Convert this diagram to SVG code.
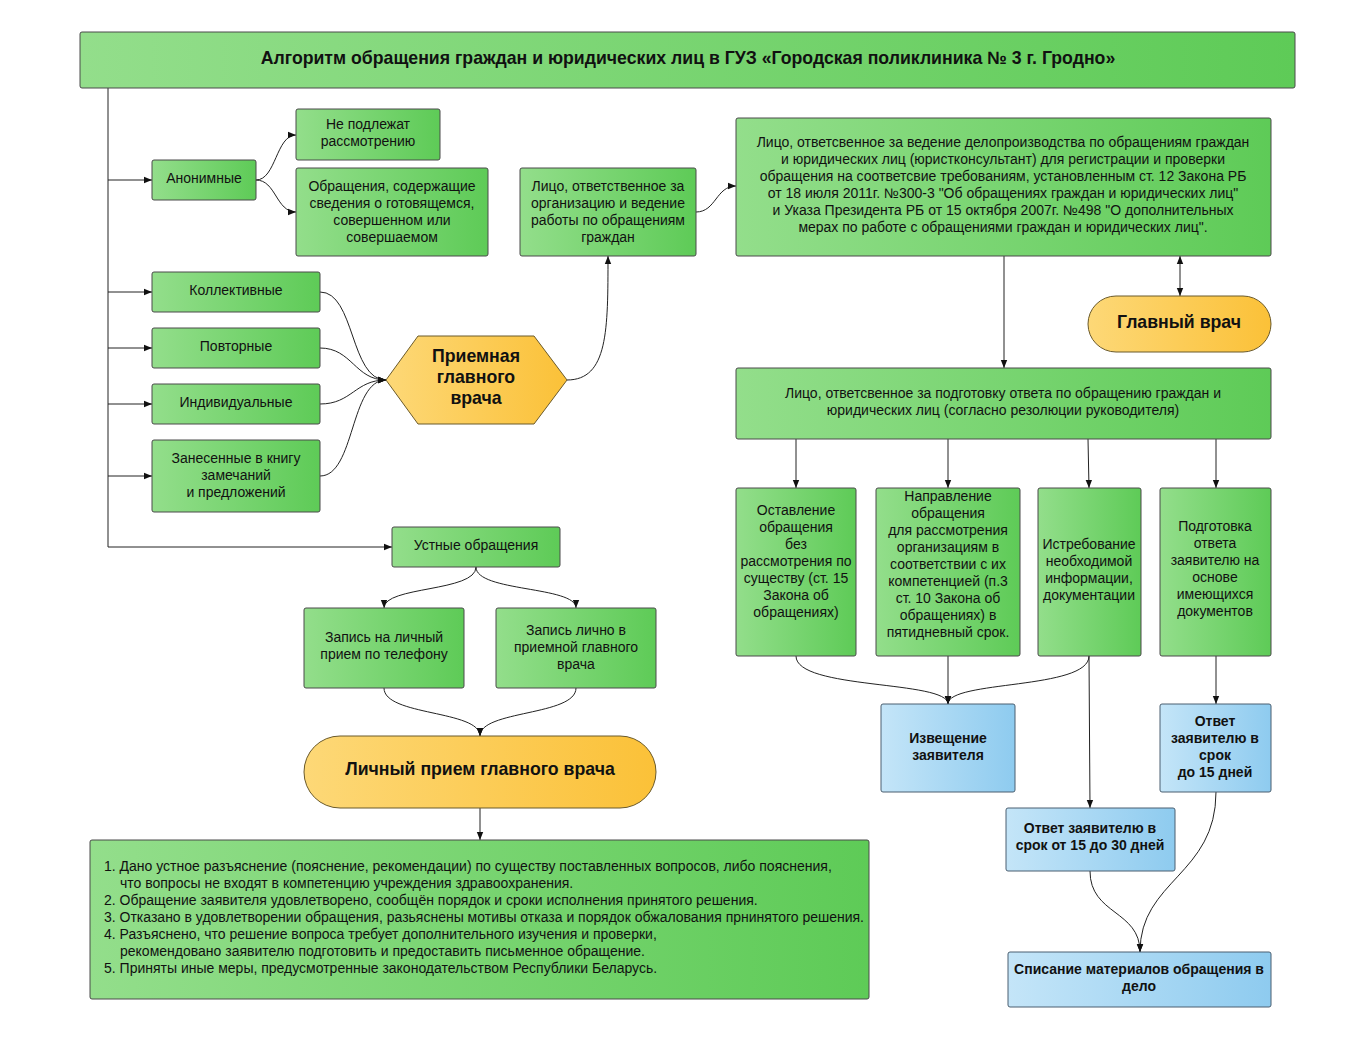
<svg xmlns="http://www.w3.org/2000/svg" width="1359" height="1040" viewBox="0 0 1359 1040">
<defs>
<linearGradient id="gGreen" x1="0" y1="0" x2="1" y2="0">
<stop offset="0" stop-color="#93de8b"/>
<stop offset="1" stop-color="#5ecb57"/>
</linearGradient>
<linearGradient id="gOrange" x1="0" y1="0" x2="1" y2="0">
<stop offset="0" stop-color="#fdd877"/>
<stop offset="1" stop-color="#fbc138"/>
</linearGradient>
<linearGradient id="gBlue" x1="0" y1="0" x2="1" y2="0">
<stop offset="0" stop-color="#c4e5f8"/>
<stop offset="1" stop-color="#8ecbef"/>
</linearGradient>
<marker id="arr" viewBox="0 0 10 10" refX="10" refY="5" markerWidth="8" markerHeight="8" markerUnits="userSpaceOnUse" orient="auto-start-reverse">
<path d="M0,1 L10,5 L0,9 z" fill="#111"/>
</marker>
</defs>
<style>
.g{fill:url(#gGreen);stroke:#4a4a4a;stroke-width:1}
.o{fill:url(#gOrange);stroke:#6b5a2a;stroke-width:1}
.b{fill:url(#gBlue);stroke:#4b5f70;stroke-width:1}
text{font-family:"Liberation Sans",Arial,sans-serif;font-size:14px;fill:#111;text-anchor:middle}
.bold{font-weight:bold}
.big{font-size:17.7px;font-weight:bold}
.left{text-anchor:start}
.c{fill:none;stroke:#222;stroke-width:1}
.ca{fill:none;stroke:#222;stroke-width:1;marker-end:url(#arr)}
</style>
<rect width="1359" height="1040" fill="#ffffff"/>

<g id="connectors">
<path class="c" d="M108,88 L108,547"/>
<path class="ca" d="M108,547 L392,547"/>
<path class="ca" d="M108,180 L152,180"/>
<path class="ca" d="M108,292 L152,292"/>
<path class="ca" d="M108,348 L152,348"/>
<path class="ca" d="M108,404 L152,404"/>
<path class="ca" d="M108,476 L152,476"/>
<path class="ca" d="M256,180 C276,180 276,135 296,135"/>
<path class="ca" d="M256,180 C276,180 276,212 296,212"/>
<path class="ca" d="M320,292 C355,292 350,380 386,380"/>
<path class="ca" d="M320,348 C352,348 355,380 386,380"/>
<path class="ca" d="M320,404 C352,404 355,380 386,380"/>
<path class="ca" d="M320,476 C355,476 350,380 386,380"/>
<path class="ca" d="M567,380 C608,380 608,330 608,256"/>
<path class="ca" d="M696,212 C716,212 716,186 736,186"/>
<path class="ca" d="M1004,256 L1004,368"/>
<path class="ca" d="M1180,296 L1180,256" style="marker-start:url(#arr)"/>
<path class="ca" d="M796,439 L796,488"/>
<path class="ca" d="M948,439 L948,488"/>
<path class="ca" d="M1088,439 L1089,488"/>
<path class="ca" d="M1216,439 L1216,488"/>
<path class="ca" d="M796,656 C796,690 948,680 948,704"/>
<path class="ca" d="M948,656 L948,704"/>
<path class="ca" d="M1089,656 C1089,690 948,680 948,704"/>
<path class="ca" d="M1089,656 L1090,808"/>
<path class="ca" d="M1216,656 L1216,704"/>
<path class="ca" d="M1090,871 C1090,915 1140,910 1140,952"/>
<path class="ca" d="M1216,792 C1216,875 1140,880 1140,952"/>
<path class="ca" d="M476,567 C476,592 384,586 384,608"/>
<path class="ca" d="M476,567 C476,592 576,586 576,608"/>
<path class="ca" d="M384,688 C384,716 480,710 480,736"/>
<path class="ca" d="M576,688 C576,716 480,710 480,736"/>
<path class="ca" d="M480,808 L480,840"/>
</g>

<g id="title">
<rect class="g" x="80" y="32" width="1215" height="56" rx="2"/>
<text class="big" x="688" y="64">Алгоритм обращения граждан и юридических лиц в ГУЗ «Городская поликлиника № 3 г. Гродно»</text>
</g>

<g id="anonymous">
<rect class="g" x="152" y="160" width="104" height="40" rx="2"/>
<text x="204" y="183">Анонимные</text>
</g>
<g id="not-considered">
<rect class="g" x="296" y="109" width="144" height="51" rx="2"/>
<text x="368" y="129">Не подлежат</text>
<text x="368" y="146">рассмотрению</text>
</g>
<g id="crime-info">
<rect class="g" x="296" y="168" width="192" height="88" rx="2"/>
<text x="392" y="191">Обращения, содержащие</text>
<text x="392" y="208">сведения о готовящемся,</text>
<text x="392" y="225">совершенном или</text>
<text x="392" y="242">совершаемом</text>
</g>
<g id="organizer">
<rect class="g" x="520" y="168" width="176" height="88" rx="2"/>
<text x="608" y="191">Лицо, ответственное за</text>
<text x="608" y="208">организацию и ведение</text>
<text x="608" y="225">работы по обращениям</text>
<text x="608" y="242">граждан</text>
</g>
<g id="registrar">
<rect class="g" x="736" y="118" width="535" height="138" rx="2"/>
<text x="1003" y="147">Лицо, ответсвенное за ведение делопроизводства по обращениям граждан</text>
<text x="1003" y="164">и юридических лиц (юристконсультант) для регистрации и проверки</text>
<text x="1003" y="181">обращения на соответсвие требованиям, установленным ст. 12 Закона РБ</text>
<text x="1003" y="198">от 18 июля 2011г. №300-3 "Об обращениях граждан и юридических лиц"</text>
<text x="1003" y="215">и Указа Президента РБ от 15 октября 2007г. №498 "О дополнительных</text>
<text x="1003" y="232">мерах по работе с обращениями граждан и юридических лиц".</text>
</g>
<g id="chief">
<rect class="o" x="1088" y="296" width="183" height="56" rx="28"/>
<text class="big" x="1179" y="328">Главный врач</text>
</g>
<g id="responder">
<rect class="g" x="736" y="368" width="535" height="71" rx="2"/>
<text x="1003" y="398">Лицо, ответсвенное за подготовку ответа по обращению граждан и</text>
<text x="1003" y="415">юридических лиц (согласно резолюции руководителя)</text>
</g>

<g id="collective">
<rect class="g" x="152" y="272" width="168" height="40" rx="2"/>
<text x="236" y="295">Коллективные</text>
</g>
<g id="repeated">
<rect class="g" x="152" y="328" width="168" height="40" rx="2"/>
<text x="236" y="351">Повторные</text>
</g>
<g id="individual">
<rect class="g" x="152" y="384" width="168" height="40" rx="2"/>
<text x="236" y="407">Индивидуальные</text>
</g>
<g id="book">
<rect class="g" x="152" y="440" width="168" height="72" rx="2"/>
<text x="236" y="463">Занесенные в книгу</text>
<text x="236" y="480">замечаний</text>
<text x="236" y="497">и предложений</text>
</g>
<g id="reception">
<polygon class="o" points="386,380 418,336 534,336 567,380 534,424 418,424"/>
<text class="big" x="476" y="362">Приемная</text>
<text class="big" x="476" y="383">главного</text>
<text class="big" x="476" y="404">врача</text>
</g>

<g id="oral">
<rect class="g" x="392" y="527" width="168" height="40" rx="2"/>
<text x="476" y="550">Устные обращения</text>
</g>
<g id="phone">
<rect class="g" x="304" y="608" width="160" height="80" rx="2"/>
<text x="384" y="642">Запись на личный</text>
<text x="384" y="659">прием по телефону</text>
</g>
<g id="inperson">
<rect class="g" x="496" y="608" width="160" height="80" rx="2"/>
<text x="576" y="635">Запись лично в</text>
<text x="576" y="652">приемной главного</text>
<text x="576" y="669">врача</text>
</g>
<g id="personal">
<rect class="o" x="304" y="736" width="352" height="72" rx="36"/>
<text class="big" x="480" y="775">Личный прием главного врача</text>
</g>
<g id="outcomes">
<rect class="g" x="90" y="840" width="779" height="159" rx="2"/>
<text class="left" x="104" y="871">1. Дано устное разъяснение (пояснение, рекомендации) по существу поставленных вопросов, либо пояснения,</text>
<text class="left" x="120" y="888">что вопросы не входят в компетенцию учреждения здравоохранения.</text>
<text class="left" x="104" y="905">2. Обращение заявителя удовлетворено, сообщён порядок и сроки исполнения принятого решения.</text>
<text class="left" x="104" y="922">3. Отказано в удовлетворении обращения, разьяснены мотивы отказа и порядок обжалования прнинятого решения.</text>
<text class="left" x="104" y="939">4. Разъяснено, что решение вопроса требует дополнительного изучения и проверки,</text>
<text class="left" x="120" y="956">рекомендовано заявителю подготовить и предоставить письменное обращение.</text>
<text class="left" x="104" y="973">5. Приняты иные меры, предусмотренные законодательством Республики Беларусь.</text>
</g>

<g id="leave">
<rect class="g" x="736" y="488" width="120" height="168" rx="2"/>
<text x="796" y="515">Оставление</text>
<text x="796" y="532">обращения</text>
<text x="796" y="549">без</text>
<text x="796" y="566">рассмотрения по</text>
<text x="796" y="583">существу (ст. 15</text>
<text x="796" y="600">Закона об</text>
<text x="796" y="617">обращениях)</text>
</g>
<g id="redirect">
<rect class="g" x="876" y="488" width="144" height="168" rx="2"/>
<text x="948" y="501">Направление</text>
<text x="948" y="518">обращения</text>
<text x="948" y="535">для рассмотрения</text>
<text x="948" y="552">организациям в</text>
<text x="948" y="569">соответствии с их</text>
<text x="948" y="586">компетенцией (п.3</text>
<text x="948" y="603">ст. 10 Закона об</text>
<text x="948" y="620">обращениях) в</text>
<text x="948" y="637">пятидневный срок.</text>
</g>
<g id="request">
<rect class="g" x="1038" y="488" width="103" height="168" rx="2"/>
<text x="1089" y="549">Истребование</text>
<text x="1089" y="566">необходимой</text>
<text x="1089" y="583">информации,</text>
<text x="1089" y="600">документации</text>
</g>
<g id="prepare">
<rect class="g" x="1160" y="488" width="111" height="168" rx="2"/>
<text x="1215" y="531">Подготовка</text>
<text x="1215" y="548">ответа</text>
<text x="1215" y="565">заявителю на</text>
<text x="1215" y="582">основе</text>
<text x="1215" y="599">имеющихся</text>
<text x="1215" y="616">документов</text>
</g>
<g id="notify">
<rect class="b" x="881" y="704" width="134" height="88" rx="2"/>
<text class="bold" x="948" y="743">Извещение</text>
<text class="bold" x="948" y="760">заявителя</text>
</g>
<g id="answer15">
<rect class="b" x="1160" y="704" width="111" height="88" rx="2"/>
<text class="bold" x="1215" y="726">Ответ</text>
<text class="bold" x="1215" y="743">заявителю в</text>
<text class="bold" x="1215" y="760">срок</text>
<text class="bold" x="1215" y="777">до 15 дней</text>
</g>
<g id="answer30">
<rect class="b" x="1006" y="808" width="169" height="63" rx="2"/>
<text class="bold" x="1090" y="833">Ответ заявителю в</text>
<text class="bold" x="1090" y="850">срок от 15 до 30 дней</text>
</g>
<g id="archive">
<rect class="b" x="1008" y="952" width="263" height="55" rx="2"/>
<text class="bold" x="1139" y="974">Списание материалов обращения в</text>
<text class="bold" x="1139" y="991">дело</text>
</g>
</svg>
